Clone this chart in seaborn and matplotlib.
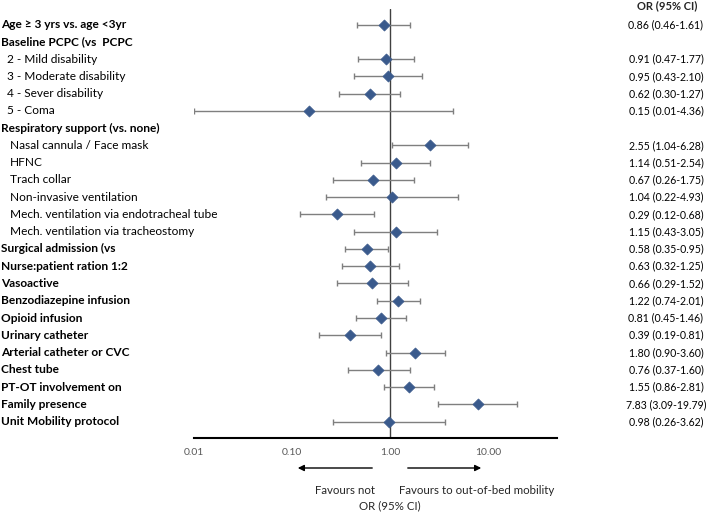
import matplotlib
matplotlib.use("Agg")
import matplotlib.pyplot as plt
import matplotlib.transforms as mtransforms
from matplotlib.ticker import FixedLocator, FuncFormatter
import seaborn as sns
import pandas as pd
import numpy as np

labels = ["Age \u2265 3 yrs vs. age <3yr", "Baseline PCPC (vs  PCPC",
          "2 - Mild disability", "3 - Moderate disability", "4 - Sever disability", "5 - Coma",
          "Respiratory support (vs. none)",
          "Nasal cannula / Face mask", "HFNC", "Trach collar", "Non-invasive ventilation",
          "Mech. ventilation via endotracheal tube", "Mech. ventilation via tracheostomy",
          "Surgical admission (vs", "Nurse:patient ration 1:2", "Vasoactive",
          "Benzodiazepine infusion", "Opioid infusion", "Urinary catheter",
          "Arterial catheter or CVC", "Chest tube", "PT-OT involvement on",
          "Family presence", "Unit Mobility protocol"]
bold = [1, 1, 0, 0, 0, 0, 1, 0, 0, 0, 0, 0, 0, 1, 1, 1, 1, 1, 1, 1, 1, 1, 1, 1]
indent = [0, 0, 1, 1, 1, 1, 0, 2, 2, 2, 2, 2, 2, 0, 0, 0, 0, 0, 0, 0, 0, 0, 0, 0]

odds = [0.86, None, 0.91, 0.95, 0.62, 0.15, None, 2.55, 1.14, 0.67, 1.04, 0.29, 1.15,
        0.58, 0.63, 0.66, 1.22, 0.81, 0.39, 1.80, 0.76, 1.55, 7.83, 0.98]
lower = [0.46, None, 0.47, 0.43, 0.30, 0.01, None, 1.04, 0.51, 0.26, 0.22, 0.12, 0.43,
         0.35, 0.32, 0.29, 0.74, 0.45, 0.19, 0.90, 0.37, 0.86, 3.09, 0.26]
upper = [1.61, None, 1.77, 2.10, 1.27, 4.36, None, 6.28, 2.54, 1.75, 4.93, 0.68, 3.05,
         0.95, 1.25, 1.52, 2.01, 1.46, 0.81, 3.60, 1.60, 2.81, 19.79, 3.62]
xticks = [0.01, 0.1, 1.0, 10.0]

rows = []
for i, (o, lo, hi) in enumerate(zip(odds, lower, upper)):
    if o is not None:
        rows.append(dict(row=i, OR=o, lo=lo, hi=hi,
                         txt=f"{o:.2f} ({lo:.2f}-{hi:.2f})"))
df = pd.DataFrame(rows)

sns.set_theme(style="white")
plt.rcParams['font.family'] = ['Lato', 'DejaVu Sans']

fig = plt.figure(figsize=(7.09, 5.14), dpi=100)
ax = fig.add_axes([194 / 709, 1 - 438 / 514, (557 - 194) / 709, (438 - 9) / 514])
ax.set_xscale("log")
ax.set_xlim(0.01, 10 ** (363 / 98 - 2))
ax.set_ylim(23.95, -0.9)

ax.axvline(1.0, color="#404040", lw=1.0, zorder=1)
ax.errorbar(df["OR"], df["row"], xerr=[df["OR"] - df["lo"], df["hi"] - df["OR"]],
            fmt="none", ecolor="#7f7f7f", elinewidth=1.0, capsize=2.5, capthick=1.0, zorder=2)
sns.scatterplot(data=df, x="OR", y="row", marker="D", s=32, color="#3a5a8c",
                edgecolor="#3a5a8c", linewidth=0.5, ax=ax, zorder=3, legend=False)

for s in ["top", "right", "left"]:
    ax.spines[s].set_visible(False)
ax.spines["bottom"].set_color("black")
ax.spines["bottom"].set_linewidth(1.5)
ax.set_yticks([])
ax.xaxis.set_major_locator(FixedLocator(xticks))
ax.xaxis.set_minor_locator(FixedLocator([]))
ax.xaxis.set_major_formatter(FuncFormatter(lambda v, p: f"{v:.2f}"))
ax.tick_params(axis="x", length=0, pad=7, labelsize=7.5, labelcolor="#595959")
ax.set_xlabel("")
ax.set_ylabel("")

trans = mtransforms.blended_transform_factory(fig.transFigure, ax.transData)
indent_px = [1, 7, 10]
for i, lab in enumerate(labels):
    fig.text(indent_px[indent[i]] / 709, i, lab, transform=trans, ha="left", va="center",
             fontsize=8.6, fontweight="bold" if bold[i] else "normal", color="black")
for _, r in df.iterrows():
    fig.text(666 / 709, r["row"], r["txt"], transform=trans, ha="center", va="center",
             fontsize=7.6, color="black")
fig.text(667 / 709, 1 - 6 / 514, "OR (95% CI)", ha="center", va="center",
         fontsize=8.0, fontweight="bold")

# arrows
fig.patches.append(matplotlib.patches.FancyArrowPatch(
    (375 / 709, 1 - 468 / 514), (295 / 709, 1 - 468 / 514), transform=fig.transFigure,
    arrowstyle="-|>", mutation_scale=9, color="black", lw=1.0))
fig.patches.append(matplotlib.patches.FancyArrowPatch(
    (405 / 709, 1 - 468 / 514), (484 / 709, 1 - 468 / 514), transform=fig.transFigure,
    arrowstyle="-|>", mutation_scale=9, color="black", lw=1.0))
fig.text(315 / 709, 1 - 490 / 514, "Favours not", ha="left", va="center", fontsize=8.3)
fig.text(399 / 709, 1 - 490 / 514, "Favours to out-of-bed mobility", ha="left", va="center", fontsize=8.3)
fig.text(390 / 709, 1 - 506 / 514, "OR (95% CI)", ha="center", va="center", fontsize=8.3)

fig.savefig("out.png", dpi=100, facecolor="white")
